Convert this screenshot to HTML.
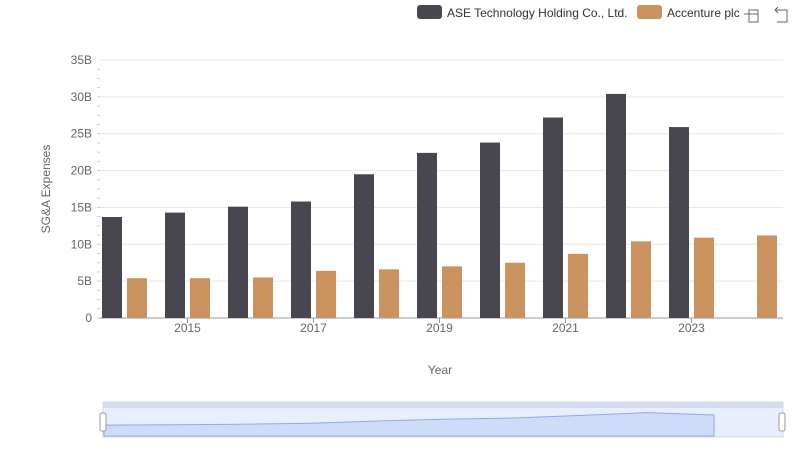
<!DOCTYPE html>
<html><head><meta charset="utf-8"><style>
body{margin:0;width:800px;height:461px;background:#fff;font-family:"Liberation Sans",sans-serif;overflow:hidden}
</style></head><body>
<svg width="800" height="461" viewBox="0 0 800 461">
<g>
<g><rect x="417" y="5" width="25" height="14" rx="3" fill="#484750"/><text x="447" y="17" font-size="12" fill="#333">ASE Technology Holding Co., Ltd.</text></g>
<g><rect x="637" y="5" width="25" height="14" rx="3" fill="#c9925e"/><text x="667" y="17" font-size="12" fill="#333">Accenture plc</text></g>
</g>
<g stroke="#666" fill="none"><path d="M749 9v14M744 14h14M750 10h8v12h-8" /><path d="M775 10h12v12h-10M778 7l-3 3 3 3"/></g>
<g id="grid"></g>
<g id="bars"></g>
<g id="xaxis"></g>
<text x="50" y="189" font-size="12" fill="#666" text-anchor="middle" transform="rotate(-90 50 189)">SG&amp;A Expenses</text>
<text x="440" y="374" font-size="12" fill="#666" text-anchor="middle">Year</text>
<g>
<rect x="103" y="402" width="680" height="35" fill="#e8eefc" stroke="#d0d8e8"/>
<rect x="103" y="402" width="680" height="6" fill="#d5dcef"/>
<path id="zoomarea" d="" fill="#cfdcf8" stroke="#8fa8e8"/>
<rect x="100" y="413" width="6" height="18" rx="2" fill="#fff" stroke="#999"/>
<rect x="779" y="413" width="6" height="18" rx="2" fill="#fff" stroke="#999"/>
</g>
</svg>
<script>
const years=[2014,2015,2016,2017,2018,2019,2020,2021,2022,2023,2024];
const ase=[13.7,14.3,15.1,15.8,19.5,22.4,23.8,27.2,30.4,25.9,null];
const acc=[5.4,5.4,5.5,6.4,6.6,7.0,7.5,8.7,10.4,10.9,11.2];
const yTicks=[0,5,10,15,20,25,30,35];
const NS="http://www.w3.org/2000/svg";
const y=v=>318-v*(258/35);
const cx=i=>124.5+63*i;
function mk(t,a,p){const e=document.createElementNS(NS,t);for(const k in a)e.setAttribute(k,a[k]);p.appendChild(e);return e;}
const grid=document.getElementById('grid'),bars=document.getElementById('bars'),xa=document.getElementById('xaxis');
yTicks.forEach(t=>{
 const l=mk('line',{x1:100,x2:783,y1:y(t),y2:y(t),stroke:t?'#e6e6e6':'#999'},grid);
 
 
 const tx=mk('text',{x:92,y:y(t)+4,'font-size':12,fill:'#666','text-anchor':'end'},grid);
 tx.textContent=t?t+'B':'0';
 
 
});
for(let v=0;v<35;v+=1.25){mk('line',{x1:97,x2:100,y1:y(v),y2:y(v),stroke:'#ccc'},grid);}
years.forEach((yr,i)=>{
 if(ase[i]!=null){const b=mk('rect',{x:cx(i)-22.5,y:y(ase[i]),width:20,height:318-y(ase[i]),fill:'#484750'},bars);
 
 }
 const b2=mk('rect',{x:cx(i)+2.5,y:y(acc[i]),width:20,height:318-y(acc[i]),fill:'#c9925e'},bars);
 
 
 if(yr%2==1){mk('line',{x1:cx(i),x2:cx(i),y1:318,y2:323,stroke:'#999'},xa);
 const t=mk('text',{x:cx(i),y:332,'font-size':12,fill:'#666','text-anchor':'middle'},xa);
 t.textContent=yr;
 
 }
});
const tot=years.map((_,i)=>(ase[i]||0)+acc[i]);
let d='M104 436';
tot.forEach((v,i)=>{const x=104+i*(610/9);if(i<10)d+=' L'+x+' '+(436-v/42*24);});
d+=' L714 436 Z';
document.getElementById('zoomarea').setAttribute('d',d);
</script>
</body></html>
